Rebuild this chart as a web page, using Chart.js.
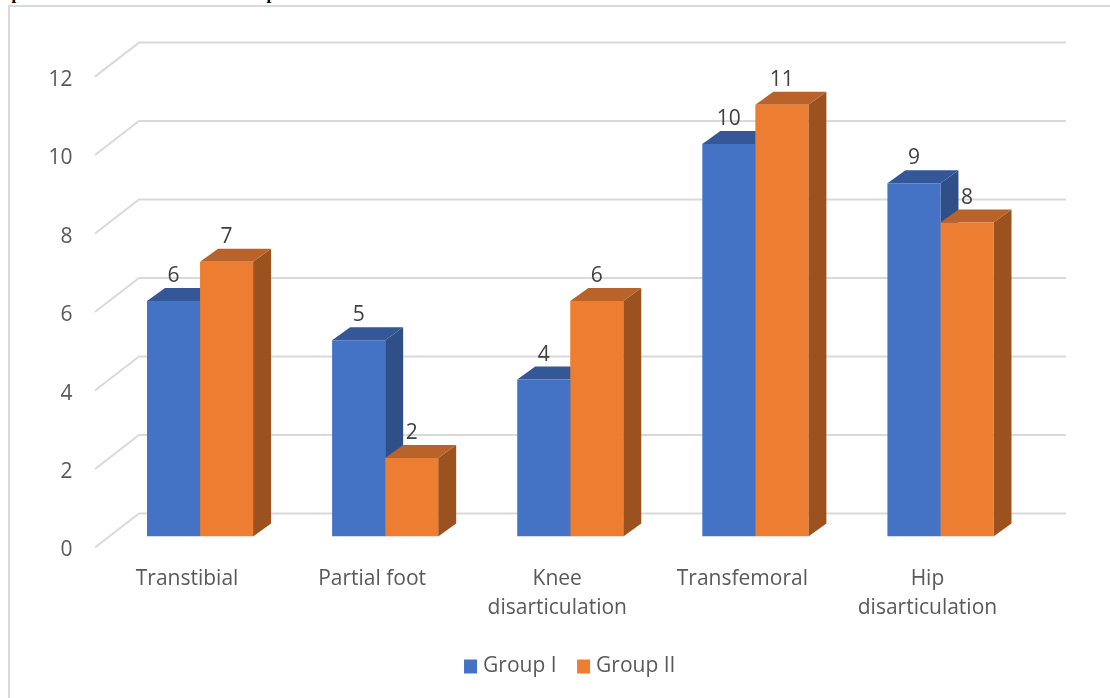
<!DOCTYPE html>
<html>
<head>
<meta charset="utf-8">
<title>Amputation level</title>
<script src="https://cdn.jsdelivr.net/npm/chart.js@4"></script>
<style>
  html, body { margin: 0; padding: 0; background: #fff; overflow: hidden; }
  #wrap { position: relative; width: 1110px; height: 698px; overflow: hidden; }
  #chart { position: absolute; left: 0; top: 0; }
  .heading {
    position: absolute; top: -16px; white-space: nowrap; word-spacing: 11px;
    font: bold 17px "Liberation Serif", serif; color: #000;
  }
</style>
</head>
<body>
<div id="wrap">
  <div class="heading" style="left: -27px">Group</div>
  <div class="heading" style="left: 82px">assessment of the amputation level</div>
  <canvas id="chart" width="1110" height="698"></canvas>
</div>
<script>
"use strict";

var categories = ["Transtibial", "Partial foot", ["Knee", "disarticulation"], "Transfemoral", ["Hip", "disarticulation"]];
var groupOne = [6, 5, 4, 10, 9];
var groupTwo = [7, 2, 6, 11, 8];
var seriesNames = ["Group I", "Group II"];
var yTicks = [0, 2, 4, 6, 8, 10, 12];

var FONT = '"Open Sans", sans-serif';
var DEPTH_X = 18;
var DEPTH_Y = 13;
var FACE_COLORS = [
  { top: "#335797", side: "#2e4f88" },
  { top: "#b9622a", side: "#9b521e" },
];

function polygon(ctx, pts, color) {
  ctx.fillStyle = color;
  ctx.beginPath();
  ctx.moveTo(pts[0][0], pts[0][1]);
  for (var i = 1; i < pts.length; i++) ctx.lineTo(pts[i][0], pts[i][1]);
  ctx.closePath();
  ctx.fill();
}

// Frame and perspective grid behind the bars
var wallGrid = {
  id: "wallGrid",
  beforeDatasetsDraw: function (chart) {
    var ctx = chart.ctx;
    var y = chart.scales.y;
    ctx.save();
    ctx.strokeStyle = "#d9d9d9";
    ctx.lineWidth = 2;
    ctx.beginPath();
    ctx.moveTo(1110, 6);
    ctx.lineTo(9, 6);
    ctx.lineTo(9, 698);
    ctx.stroke();
    yTicks.forEach(function (v) {
      var py = y.getPixelForValue(v);
      ctx.beginPath();
      ctx.moveTo(95, py + 11);
      ctx.lineTo(139, py - 23);
      ctx.lineTo(1066, py - 23);
      ctx.stroke();
    });
    ctx.restore();
  },
};

// Side and top faces go under all the front faces, Group I first so that
// Group II's top sits over Group I's side
var barDepth = {
  id: "barDepth",
  beforeDatasetsDraw: function (chart) {
    var ctx = chart.ctx;
    var base = chart.scales.y.getPixelForValue(0);
    chart.data.datasets.forEach(function (ds, i) {
      var colors = FACE_COLORS[i];
      chart.getDatasetMeta(i).data.forEach(function (bar) {
        var half = bar.width / 2;
        var l = bar.x - half;
        var r = bar.x + half;
        polygon(ctx, [[r, bar.y], [r + DEPTH_X, bar.y - DEPTH_Y], [r + DEPTH_X, base - DEPTH_Y], [r, base]], colors.side);
        polygon(ctx, [[l, bar.y], [l + DEPTH_X, bar.y - DEPTH_Y], [r + DEPTH_X, bar.y - DEPTH_Y], [r, bar.y]], colors.top);
      });
    });
  },
};

var valueLabels = {
  id: "valueLabels",
  afterDatasetsDraw: function (chart) {
    var ctx = chart.ctx;
    ctx.save();
    ctx.fillStyle = "#404040";
    ctx.font = "21px " + FONT;
    ctx.textAlign = "center";
    ctx.textBaseline = "middle";
    chart.data.datasets.forEach(function (ds, i) {
      chart.getDatasetMeta(i).data.forEach(function (bar, j) {
        ctx.fillText(ds.data[j], bar.x, bar.y - 25);
      });
    });
    ctx.restore();
  },
};

new Chart(document.getElementById("chart"), {
  type: "bar",
  data: {
    labels: categories,
    datasets: [
      { label: seriesNames[0], data: groupOne, backgroundColor: "#4472c4" },
      { label: seriesNames[1], data: groupTwo, backgroundColor: "#ed7d31" },
    ],
  },
  options: {
    responsive: false,
    animation: false,
    layout: { padding: { top: 65.6, left: 34, right: 0, bottom: 11 } },
    plugins: {
      title: { display: false },
      tooltip: { enabled: false },
      legend: {
        position: "bottom",
        labels: {
          // a thick stroke around a small box keeps the text close to the swatch
          boxWidth: 4,
          boxHeight: 5,
          padding: 25,
          color: "#595959",
          font: { family: FONT, size: 21 },
          generateLabels: function (chart) {
            return Chart.defaults.plugins.legend.labels.generateLabels(chart).map(function (item) {
              item.lineWidth = 9;
              item.strokeStyle = item.fillStyle;
              return item;
            });
          },
        },
      },
    },
    datasets: {
      bar: { categoryPercentage: 0.573, barPercentage: 1, borderWidth: 0 },
    },
    scales: {
      x: {
        grid: { display: false },
        border: { display: false },
        ticks: {
          color: "#595959",
          font: { family: FONT, size: 21, lineHeight: 1.38 },
          labelOffset: -13,
          padding: 20,
          maxRotation: 0,
          autoSkip: false,
        },
        afterFit: function (scale) {
          scale.height = 94.5;
        },
      },
      y: {
        min: 0,
        max: 12,
        afterBuildTicks: function (scale) {
          scale.ticks = yTicks.map(function (v) {
            return { value: v };
          });
        },
        grid: { display: false },
        border: { display: false },
        ticks: {
          color: "#595959",
          font: { family: FONT, size: 21 },
          labelOffset: 14,
          padding: 27,
        },
        afterFit: function (scale) {
          scale.width = 73.5;
        },
      },
      // empty axis that reserves the room right of the last category
      spacer: {
        position: "right",
        grid: { display: false },
        border: { display: false },
        ticks: { display: false },
        afterFit: function (scale) {
          scale.width = 77;
        },
      },
    },
  },
  plugins: [wallGrid, barDepth, valueLabels],
});
</script>
</body>
</html>
